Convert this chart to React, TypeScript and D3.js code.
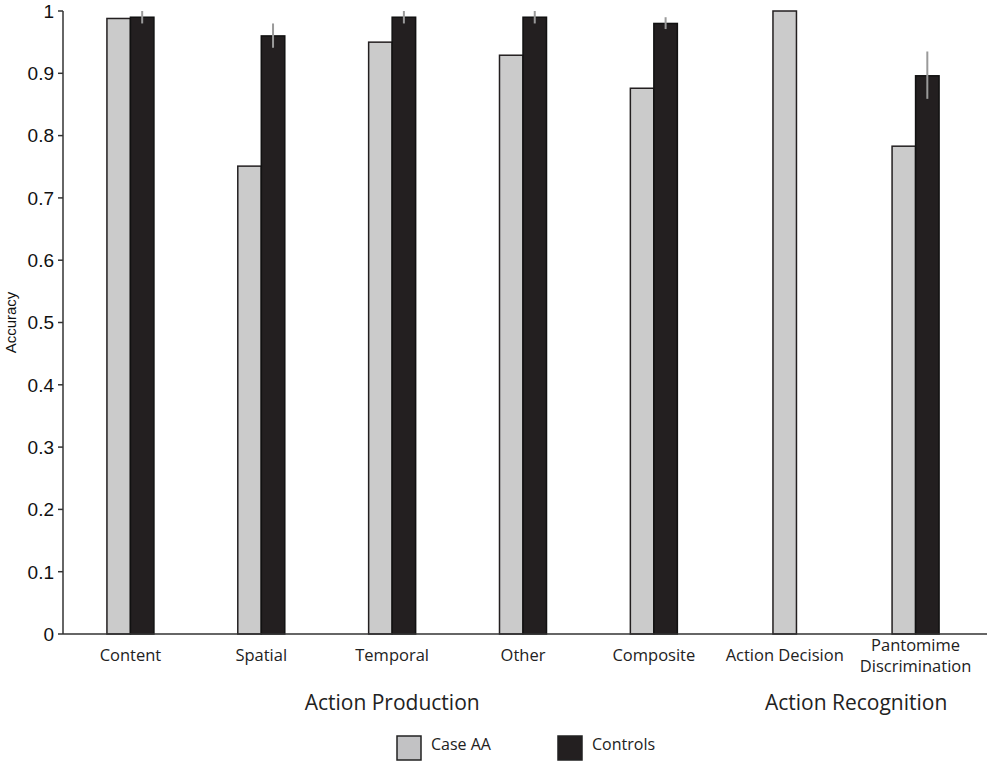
import { useEffect, useRef } from 'react';
import * as d3 from 'd3';

const categories = ['Content', 'Spatial', 'Temporal', 'Other', 'Composite', 'Action Decision', 'Pantomime Discrimination'];
const caseAA = [0.988, 0.751, 0.95, 0.929, 0.876, 1.0, 0.783];
const controls = [0.99, 0.96, 0.99, 0.99, 0.98, null, 0.896];
const controlsErrLo = [0.98, 0.941, 0.98, 0.98, 0.971, null, 0.859];
const controlsErrHi = [1.0, 0.98, 1.0, 1.0, 0.99, null, 0.935];
const yTicks = [0, 0.1, 0.2, 0.3, 0.4, 0.5, 0.6, 0.7, 0.8, 0.9, 1];
const groups = [
  { label: 'Action Production', from: 1, to: 3 },
  { label: 'Action Recognition', from: 5, to: 6 },
];

const W = 992;
const H = 765;
const GRAY = '#cbcbcb';
const DARK = '#231f20';
const LABEL_FONT = '"Open Sans", "Noto Sans", sans-serif';
const NUM_FONT = '"Liberation Sans", Arial, sans-serif';

export default function App() {
  const svgRef = useRef<SVGSVGElement>(null);

  useEffect(() => {
    if (!svgRef.current) return;
    document.body.style.margin = '0';
    const svg = d3.select(svgRef.current);
    svg.selectAll('*').remove();

    const x = d3.scaleBand<string>().domain(categories).range([65, 981]);
    const y = d3.scaleLinear().domain([0, 1]).range([634, 11]);
    const barW = 23.5;
    const mid = (c: string) => x(c)! + x.bandwidth() / 2;

    // bars
    const g = svg.append('g');
    categories.forEach((c, i) => {
      const cx = mid(c);
      const hasCtrl = controls[i] != null;
      const gx = hasCtrl ? cx - barW : cx - barW / 2;
      g.append('rect')
        .attr('x', gx).attr('y', y(caseAA[i]))
        .attr('width', barW).attr('height', y(0) - y(caseAA[i]))
        .attr('fill', GRAY).attr('stroke', DARK).attr('stroke-width', 1.5);
      if (hasCtrl) {
        const v = controls[i] as number;
        g.append('rect')
          .attr('x', cx).attr('y', y(v))
          .attr('width', barW).attr('height', y(0) - y(v))
          .attr('fill', DARK).attr('stroke', '#111').attr('stroke-width', 1.5);
        g.append('line')
          .attr('x1', cx + barW / 2).attr('x2', cx + barW / 2)
          .attr('y1', y(controlsErrHi[i] as number)).attr('y2', y(controlsErrLo[i] as number))
          .attr('stroke', '#9a9a9a').attr('stroke-width', 2);
      }
    });

    // axes
    svg.append('line')
      .attr('x1', 63).attr('x2', 987).attr('y1', y(0)).attr('y2', y(0))
      .attr('stroke', '#333').attr('stroke-width', 1.5);
    svg.append('line')
      .attr('x1', 63).attr('x2', 63).attr('y1', y(1)).attr('y2', y(0))
      .attr('stroke', '#333').attr('stroke-width', 1.5);
    const ty = svg.append('g');
    yTicks.forEach(t => {
      ty.append('line')
        .attr('x1', 58).attr('x2', 63).attr('y1', y(t)).attr('y2', y(t))
        .attr('stroke', '#333').attr('stroke-width', 1.5);
      ty.append('text')
        .attr('x', 54).attr('y', y(t)).attr('dy', '0.36em')
        .attr('text-anchor', 'end')
        .attr('font-family', NUM_FONT).attr('font-size', 19).attr('fill', '#111')
        .text(String(t));
    });

    svg.append('text')
      .attr('transform', `translate(16, ${y(0.5)}) rotate(-90)`)
      .attr('text-anchor', 'middle')
      .attr('font-family', NUM_FONT).attr('font-size', 15).attr('fill', '#111')
      .text('Accuracy');

    // category labels
    categories.forEach(c => {
      const cx = mid(c);
      const words = c === 'Pantomime Discrimination' ? ['Pantomime', 'Discrimination'] : [c];
      const t = svg.append('text')
        .attr('text-anchor', 'middle')
        .attr('font-family', LABEL_FONT).attr('font-size', 16.5).attr('fill', '#222');
      if (words.length === 1) {
        t.append('tspan').attr('x', cx).attr('y', 661).text(words[0]);
      } else {
        t.append('tspan').attr('x', cx).attr('y', 651).text(words[0]);
        t.append('tspan').attr('x', cx).attr('y', 672).text(words[1]);
      }
    });

    // group labels
    groups.forEach(gr => {
      const cx = (mid(categories[gr.from]) + mid(categories[gr.to])) / 2 + (gr.from === 5 ? 6 : 0);
      svg.append('text')
        .attr('x', cx).attr('y', 710)
        .attr('text-anchor', 'middle')
        .attr('font-family', LABEL_FONT).attr('font-size', 21).attr('fill', '#222')
        .text(gr.label);
    });

    // legend
    const legend = [
      { label: 'Case AA', fill: '#c2c2c4', x: 397 },
      { label: 'Controls', fill: DARK, x: 558 },
    ];
    legend.forEach(l => {
      svg.append('rect')
        .attr('x', l.x).attr('y', 736).attr('width', 24).attr('height', 24)
        .attr('fill', l.fill).attr('stroke', '#222').attr('stroke-width', 1.5);
      svg.append('text')
        .attr('x', l.x + 34).attr('y', 750)
        .attr('font-family', LABEL_FONT).attr('font-size', 16).attr('fill', '#222')
        .text(l.label);
    });
  }, []);

  return (
    <svg ref={svgRef} width={W} height={H} style={{ display: 'block', background: '#fff' }}></svg>
  );
}
